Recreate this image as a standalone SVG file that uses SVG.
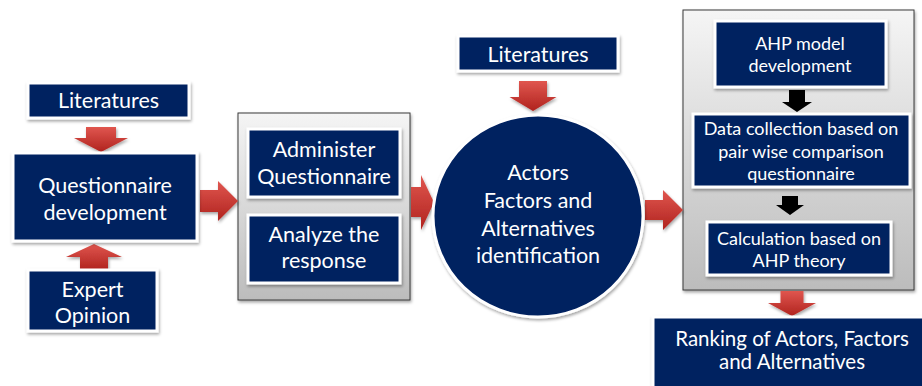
<svg xmlns="http://www.w3.org/2000/svg" width="922" height="386" viewBox="0 0 922 386">
  <defs>
    <linearGradient id="redFill" x1="0" y1="0" x2="0" y2="1">
      <stop offset="0" stop-color="#e0564f"/>
      <stop offset="1" stop-color="#b0231e"/>
    </linearGradient>
    <linearGradient id="panelFill" x1="0" y1="0" x2="0" y2="1">
      <stop offset="0" stop-color="#f5f5f5"/>
      <stop offset="1" stop-color="#bcbcbc"/>
    </linearGradient>
    <filter id="shadow" x="-10%" y="-10%" width="125%" height="130%">
      <feDropShadow dx="1" dy="2" stdDeviation="1.5" flood-color="#000" flood-opacity="0.35"/>
    </filter>
    <style>
      .box { fill: #002060; stroke: #ffffff; stroke-width: 3; filter: url(#shadow); }
      .panel { fill: url(#panelFill); stroke: #3a3a3a; stroke-width: 1; filter: url(#shadow); }
      .red { fill: url(#redFill); filter: url(#shadow); }
      .black { fill: #000; }
      text { font-family: Lato, "Liberation Sans", sans-serif; fill: #ffffff; text-anchor: middle; }
      .lg { font-size: 21.5px; }
      .md { font-size: 20.5px; }
      .sm { font-size: 18px; }
    </style>
  </defs>

  <!-- grey panels that hold the grouped steps -->
  <g id="panel-survey">
    <rect class="panel" x="238" y="113" width="172" height="187"/>
  </g>
  <g id="panel-ahp">
    <rect class="panel" x="683" y="10" width="231" height="280"/>
  </g>

  <!-- connectors -->
  <g id="connectors">
    <polygon class="red" points="86,127 116,127 116,138 128,138 101,152 74,138 86,138"/>
    <polygon class="red" points="80,270 108,270 108,257 122,257 94,244 66,257 80,257"/>
    <polygon class="red" points="200,190 218,190 218,181 238,201 218,221 218,212 200,212"/>
    <polygon class="red" points="411,187 421,187 421,175 434,202.5 421,230 421,217 411,217"/>
    <polygon class="red" points="519,81 547,81 547,97 556.5,97 533,111 509.5,97 519,97"/>
    <polygon class="red" points="645,200 663,200 663,190 683,210 663,230 663,220 645,220"/>
    <polygon class="black" points="789,90 805,90 805,102 812,102 797,112 782,102 789,102"/>
    <polygon class="black" points="782,196 798,196 798,205 804,205 790,215 776,205 782,205"/>
    <polygon class="red" points="780.5,291 803.5,291 803.5,303 816,303 792,316 768,303 780.5,303"/>
  </g>

  <g id="literatures-left">
    <rect class="box" x="28" y="83" width="161" height="35"/>
    <text class="lg" x="108.5" y="108">Literatures</text>
  </g>

  <g id="questionnaire-development">
    <rect class="box" x="13" y="153" width="184" height="88"/>
    <text class="lg" x="105" y="193">Questionnaire</text>
    <text class="lg" x="105" y="220">development</text>
  </g>

  <g id="expert-opinion">
    <rect class="box" x="28" y="270" width="129" height="61"/>
    <text class="lg" x="92.5" y="297">Expert</text>
    <text class="lg" x="92.5" y="323">Opinion</text>
  </g>

  <g id="administer-questionnaire">
    <rect class="box" x="248" y="129" width="152" height="68"/>
    <text class="lg" x="324" y="157">Administer</text>
    <text class="lg" x="324" y="184">Questionnaire</text>
  </g>

  <g id="analyze-response">
    <rect class="box" x="248" y="215" width="152" height="68"/>
    <text class="lg" x="324" y="242">Analyze the</text>
    <text class="lg" x="324" y="268">response</text>
  </g>

  <g id="literatures-top">
    <rect class="box" x="458" y="36" width="160" height="35"/>
    <text class="lg" x="538" y="62">Literatures</text>
  </g>

  <g id="identification">
    <ellipse class="box" cx="538" cy="216" rx="105" ry="101"/>
    <text class="lg" x="538" y="180">Actors</text>
    <text class="lg" x="538" y="208">Factors and</text>
    <text class="lg" x="538" y="236">Alternatives</text>
    <text class="lg" x="538" y="263">identification</text>
  </g>

  <g id="ahp-model">
    <rect class="box" x="715" y="21" width="171" height="66"/>
    <text class="sm" x="800" y="50">AHP model</text>
    <text class="sm" x="800" y="72">development</text>
  </g>

  <g id="data-collection">
    <rect class="box" x="693" y="114" width="217" height="73"/>
    <text class="sm" x="801" y="135">Data collection based on</text>
    <text class="sm" x="801" y="158">pair wise comparison</text>
    <text class="sm" x="801" y="180">questionnaire</text>
  </g>

  <g id="calculation">
    <rect class="box" x="707" y="222" width="184" height="53"/>
    <text class="sm" x="799" y="245">Calculation based on</text>
    <text class="sm" x="799" y="267">AHP theory</text>
  </g>

  <g id="ranking">
    <rect class="box" x="653" y="317" width="275" height="75"/>
    <text class="md" x="792" y="346">Ranking of Actors, Factors</text>
    <text class="md" x="792" y="369">and Alternatives</text>
  </g>
</svg>
